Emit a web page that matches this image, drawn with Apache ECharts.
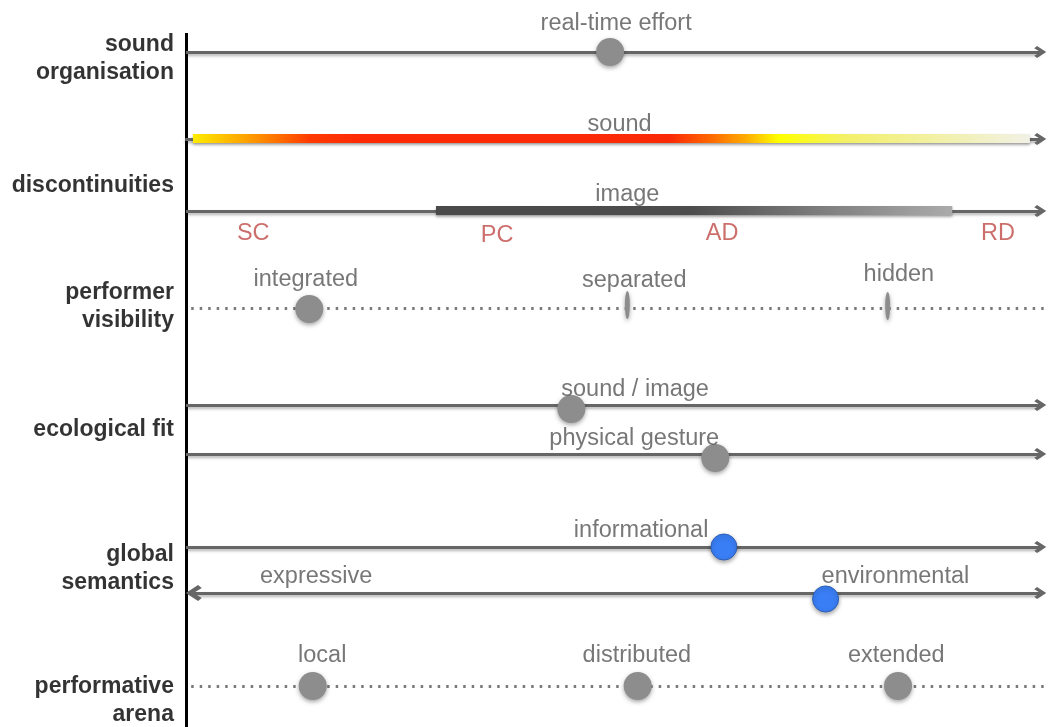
<!DOCTYPE html>
<html>
<head>
<meta charset="utf-8">
<script src="https://cdn.jsdelivr.net/npm/echarts@6/dist/echarts.min.js"></script>
<style>
  html, body { margin: 0; background: #fff; }
  #chart { width: 1048px; height: 727px; }
</style>
</head>
<body>
<div id="chart"></div>
<script>
  // dimensions on the left
  var dimensionNames = ['sound\norganisation', 'discontinuities', 'performer\nvisibility', 'ecological fit', 'global\nsemantics', 'performative\narena']
  var dimensionY = [59, 186, 307, 430, 569, 701]

  // track rows (vertical layout of the diagram)
  var trackY = { effort: 52, sound: 139, image: 211, visibility: 308, fitSound: 405, fitGesture: 454, info: 547, env: 593, arena: 686 }

  // markers: position along the track, 0 - 100
  var markerNames = ['real-time effort', 'integrated', 'separated', 'hidden', 'sound / image', 'physical gesture', 'informational', 'environmental', 'local', 'distributed', 'extended']
  var markerValues = [49.2, 14.3, 51.2, 81.4, 44.7, 61.4, 62.4, 74.2, 14.7, 52.4, 82.6]
  var markerKinds = ['dot', 'dot', 'thin', 'thin', 'dot', 'dot', 'blue', 'blue', 'dot', 'dot', 'dot']
  var markerY = [52, 309, 305, 306, 409, 458, 547, 599, 686, 686, 686]

  // text labels along the tracks
  var labelNames = ['real-time effort', 'sound', 'image', 'integrated', 'separated', 'hidden', 'sound / image', 'physical gesture', 'informational', 'expressive', 'environmental', 'local', 'distributed', 'extended']
  var labelValues = [49.9, 50.3, 51.2, 13.9, 52.0, 82.7, 52.1, 52.0, 52.8, 15.1, 82.3, 15.8, 52.3, 82.4]
  var labelY = [24, 125, 195, 280, 281, 275, 390, 439, 531, 577, 577, 656, 656, 656]

  // discontinuity scale
  var scaleNames = ['SC', 'PC', 'AD', 'RD']
  var scaleValues = [7.8, 36.1, 62.2, 94.2]
  var scaleY = [234, 236, 234, 234]

  // gradient bars: [start, end]
  var soundBar = [0.8, 97.9]
  var imageBar = [29.0, 88.9]

  var chevron = 'path://M5,0 L10,6.6 L8.2,8.6 L5,4.2 L1.8,8.6 L0,6.6 Z'
  var lineShadow = { shadowColor: 'rgba(0,0,0,0.3)', shadowBlur: 3, shadowOffsetY: 2 }
  var fontFamily = 'Liberation Sans, Arial, Helvetica, sans-serif'

  function seg (x1, x2, y) {
    return { coords: [[x1, y], [x2, y]] }
  }

  var arrowTracks = ['effort', 'sound', 'image', 'fitSound', 'fitGesture', 'info'].map(function (k) {
    return seg(k === 'sound' ? -0.1 : 0, 99.1, trackY[k])
  })

  var chart = echarts.init(document.getElementById('chart'))
  var option = {
    animation: false,
    grid: { left: 0, right: 0, top: 0, bottom: 0 },
    xAxis: { type: 'value', min: -21.58, max: 100, show: false },
    yAxis: { type: 'value', min: 0, max: 727, inverse: true, show: false },
    series: [
      {
        // left vertical axis
        type: 'lines',
        coordinateSystem: 'cartesian2d',
        symbol: 'none',
        lineStyle: { color: '#000', width: 3, opacity: 1 },
        data: [{ coords: [[0, 33], [0, 727]] }]
      },
      {
        type: 'lines',
        coordinateSystem: 'cartesian2d',
        symbol: ['none', chevron],
        symbolSize: [16, 12],
        lineStyle: Object.assign({ color: '#666', width: 2.8, opacity: 1 }, lineShadow),
        data: arrowTracks
      },
      {
        type: 'lines',
        coordinateSystem: 'cartesian2d',
        symbol: [chevron, chevron],
        symbolSize: [16, 12],
        lineStyle: Object.assign({ color: '#666', width: 2.8, opacity: 1 }, lineShadow),
        data: [seg(0.9, 99.1, trackY.env)]
      },
      {
        type: 'lines',
        coordinateSystem: 'cartesian2d',
        symbol: 'none',
        lineStyle: { color: '#7a7a7a', width: 3, type: [2.5, 6], opacity: 1 },
        data: [seg(0.6, 100, trackY.visibility), seg(0.6, 100, trackY.arena)]
      },
      {
        // gradient bars
        type: 'custom',
        coordinateSystem: 'cartesian2d',
        data: [
          [soundBar[0], soundBar[1], trackY.sound, 0],
          [imageBar[0], imageBar[1], trackY.image, 1]
        ],
        renderItem: function (params, api) {
          var p1 = api.coord([api.value(0), api.value(2)])
          var p2 = api.coord([api.value(1), api.value(2)])
          var stops = api.value(3) === 0 ? [
            { offset: 0, color: '#ffec00' },
            { offset: 0.07, color: '#ff9a00' },
            { offset: 0.14, color: '#ff3a00' },
            { offset: 0.2, color: '#fe2a06' },
            { offset: 0.57, color: '#fb2a06' },
            { offset: 0.62, color: '#ff6a00' },
            { offset: 0.66, color: '#ffaa00' },
            { offset: 0.70, color: '#ffff00' },
            { offset: 0.78, color: '#f3f068' },
            { offset: 1, color: '#f1f1e6' }
          ] : [
            { offset: 0, color: '#4a4a4a' },
            { offset: 0.49, color: '#4c4c4c' },
            { offset: 0.75, color: '#7e7e7e' },
            { offset: 1, color: '#ababab' }
          ]
          return {
            type: 'rect',
            shape: { x: p1[0], y: p1[1] - 5, width: p2[0] - p1[0], height: 9 },
            style: {
              fill: new echarts.graphic.LinearGradient(0, 0, 1, 0, stops),
              shadowColor: 'rgba(0,0,0,0.3)',
              shadowBlur: 3,
              shadowOffsetY: 2
            }
          }
        }
      },
      {
        // markers
        type: 'scatter',
        z: 5,
        data: markerNames.map(function (n, i) {
          var kind = markerKinds[i]
          return {
            name: n,
            value: [markerValues[i], markerY[i]],
            symbolSize: kind === 'thin' ? [5, 28] : (kind === 'blue' ? 26 : 28),
            itemStyle: {
              color: kind === 'blue' ? '#3a7ef5' : '#8d8d8d',
              borderColor: kind === 'blue' ? '#2d5fb5' : '#8d8d8d',
              borderWidth: kind === 'blue' ? 1 : 0
            }
          }
        }),
        itemStyle: { opacity: 1, shadowColor: 'rgba(0,0,0,0.35)', shadowBlur: 4, shadowOffsetY: 2 }
      },
      {
        // track labels
        type: 'scatter',
        z: 6,
        symbolSize: 0,
        data: labelNames.map(function (n, i) {
          return { name: n, value: [labelValues[i], labelY[i]] }
        }),
        label: {
          show: true,
          position: 'inside',
          formatter: function (p) { return p.name },
          color: '#555',
          fontSize: 23.5,
          fontFamily: fontFamily
        }
      },
      {
        type: 'scatter',
        z: 6,
        symbolSize: 0,
        data: scaleNames.map(function (n, i) {
          return { name: n, value: [scaleValues[i], scaleY[i]] }
        }),
        label: {
          show: true,
          position: 'inside',
          formatter: function (p) { return p.name },
          color: '#bf4b47',
          fontSize: 23.5,
          fontFamily: fontFamily
        }
      },
      {
        // dimension names
        type: 'scatter',
        z: 6,
        symbolSize: 0,
        data: dimensionNames.map(function (n, i) {
          return { name: n, value: [-1.4, dimensionY[i]] }
        }),
        label: {
          show: true,
          position: 'inside',
          align: 'right',
          formatter: function (p) { return p.name },
          color: '#000',
          fontSize: 23,
          fontWeight: 'bold',
          lineHeight: 28,
          fontFamily: fontFamily
        }
      }
    ]
  }
  chart.setOption(option)
</script>
</body>
</html>
